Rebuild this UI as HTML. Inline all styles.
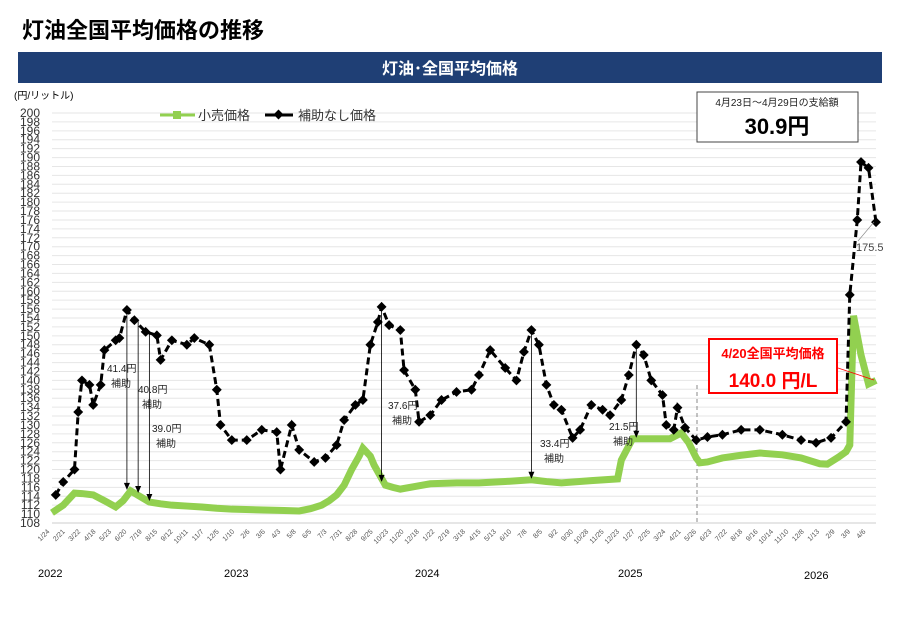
<!DOCTYPE html>
<html><head><meta charset="utf-8">
<style>
body{margin:0;background:#fff;width:900px;height:623px;overflow:hidden;font-family:"Liberation Sans","Noto Sans CJK JP",sans-serif;}
</style></head><body>
<svg id="c" width="900" height="623" xmlns="http://www.w3.org/2000/svg" font-family="Liberation Sans, Noto Sans CJK JP, sans-serif">
<text x="22" y="38" font-size="22" font-weight="bold" fill="#000">灯油全国平均価格の推移</text>
<rect x="18" y="52" width="864" height="31" fill="#1f3f75"/>
<text x="450" y="74" font-size="16" font-weight="bold" fill="#fff" text-anchor="middle">灯油･全国平均価格</text>
<text x="14" y="99" font-size="10" fill="#000">(円/リットル)</text>
<g id="grid"></g><g id="ylab"></g><g id="xlab"></g>
<line x1="697" y1="385" x2="697" y2="523" stroke="#888" stroke-dasharray="4,3"/>
<g id="series"></g>
<g id="ann" font-size="10" fill="#222"></g>
<g>
<line x1="160" y1="115" x2="195" y2="115" stroke="#92d050" stroke-width="3"/><rect x="173" y="111" width="8" height="8" fill="#92d050"/>
<text x="198" y="120" font-size="13" fill="#333">小売価格</text>
<line x1="265" y1="115" x2="293" y2="115" stroke="#000" stroke-width="3"/><rect x="275" y="111" width="7" height="7" fill="#000" transform="rotate(45 278.5 114.5)"/>
<text x="298" y="120" font-size="13" fill="#333">補助なし価格</text>
</g>
<g>
<rect x="697" y="92" width="161" height="50" fill="#fff" stroke="#444"/>
<text x="777" y="106" font-size="10" fill="#222" text-anchor="middle">4月23日～4月29日の支給額</text>
<text x="777" y="134" font-size="22" font-weight="bold" fill="#000" text-anchor="middle">30.9円</text>
</g>
<g>
<line x1="838" y1="368" x2="874" y2="380" stroke="#f00" stroke-width="0.8"/>
<rect x="709" y="339" width="128" height="54" fill="#fff" stroke="#f00" stroke-width="2"/>
<text x="773" y="358" font-size="13" font-weight="bold" fill="#f00" text-anchor="middle">4/20全国平均価格</text>
<text x="773" y="387" font-size="19" font-weight="bold" fill="#f00" text-anchor="middle">140.0 円/L</text>
</g>
<text x="856" y="251" font-size="11" fill="#444">175.5</text>
<line x1="858" y1="241" x2="874" y2="222" stroke="#888" stroke-width="0.6"/>
<g font-size="11" fill="#000">
<text x="38" y="577">2022</text>
<text x="224" y="577">2023</text>
<text x="415" y="577">2024</text>
<text x="618" y="577">2025</text>
<text x="804" y="579">2026</text>
</g>
</svg>
<script>
const yTicks=[108,110,112,114,116,118,120,122,124,126,128,130,132,134,136,138,140,142,144,146,148,150,152,154,156,158,160,162,164,166,168,170,172,174,176,178,180,182,184,186,188,190,192,194,196,198,200];
const xLabels=["1/24","2/21","3/22","4/18","5/23","6/20","7/19","8/15","9/12","10/11","11/7","12/5","1/10","2/6","3/6","4/3","5/8","6/5","7/3","7/31","8/28","9/25","10/23","11/20","12/18","1/22","2/19","3/18","4/15","5/13","6/10","7/8","8/5","9/2","9/30","10/28","11/25","12/23","1/27","2/25","3/24","4/21","5/26","6/23","7/22","8/18","9/16","10/14","11/10","12/8","1/13","2/9","3/9","4/6"];
const retailWeeks=[0,3,6,8,11,14,17,19,21,23,26,29,32,36,40,44,48,53,58,62,66,69,72,74,76,78,80,82,83,85,86,88,89,91,93,97,101,108,114,121,128,132,136,144,151,152,155,160,165,168,170,172,173,175,179,184,189,195,200,205,207,210,212,213,214,216,218,220];
const retailValues=[110.3,112,114.7,114.6,114.3,113,111.6,113,115.2,114.2,112.7,112.3,112,111.8,111.6,111.3,111.1,111,110.9,110.8,110.7,111.2,112,113,114.3,116.5,120,123,124.8,123,121,118,116.5,116,115.6,116.2,116.8,117,117,117.3,117.7,117.3,117,117.5,117.9,122.1,126.9,126.9,126.9,128.2,126,122.6,121.5,121.7,122.6,123.2,123.7,123.3,122.6,121.3,121.2,122.8,124,125.5,154.5,145.7,139.2,140.0];
const noSubWeeks=[1,3,6,7,8,10,11,13,14,17,18,20,22,25,28,29,32,36,38,42,44,45,48,52,56,60,61,64,66,70,73,76,78,81,83,85,87,88,90,93,94,97,98,101,104,108,112,114,117,121,124,126,128,130,132,134,136,139,141,144,147,149,152,154,156,158,160,163,164,166,167,169,172,175,179,184,189,195,200,204,208,212,213,215,216,218,220];
const noSubValues=[114.3,117.2,120,132.9,140,139,134.5,139,146.8,149,149.5,155.8,153.5,150.9,150.1,144.6,149,148,149.5,148,137.9,130,126.6,126.6,128.9,128.4,120,130,124.4,121.7,122.6,125.5,131.1,134.5,135.6,148,153.1,156.5,152.4,151.3,142.3,137.9,130.7,132.2,135.6,137.4,137.9,141.2,146.8,142.8,140,146.4,151.3,148,139,134.5,133.4,127.1,128.9,134.5,133.4,132.2,135.6,141.2,148,145.7,140,136.7,130,128.9,133.9,129.4,126.6,127.3,127.8,128.9,128.9,127.8,126.6,126,127.1,130.7,159.2,176,189,187.7,175.5];
const NS='http://www.w3.org/2000/svg';
const X0=52,X1=876,Y0=523,Y1=113,WMAX=220;
const xs=w=>X0+w*(X1-X0)/WMAX;
const ys=v=>Y0-(v-108)*(Y0-Y1)/92;
function mk(t,a,p){const e=document.createElementNS(NS,t);for(const k in a)e.setAttribute(k,a[k]);p.appendChild(e);return e;}
const grid=document.getElementById('grid'),ylab=document.getElementById('ylab'),xlab=document.getElementById('xlab'),ser=document.getElementById('series');
yTicks.forEach(v=>{
 const l=mk('line',{x1:X0,x2:X1,y1:ys(v),y2:ys(v),stroke:v===108?'#ccc':'#e6e6e6','stroke-width':1},grid);
 
 
 const t=mk('text',{x:40,y:ys(v)+4,'font-size':12,fill:'#333','text-anchor':'end'},ylab);
 
 
 t.textContent=v;
});
xLabels.forEach((s,i)=>{
 const x=50+i*(866-50)/(xLabels.length-1),y=532;
 const t=mk('text',{x:x,y:y,'font-size':7,fill:'#555','text-anchor':'end',transform:`rotate(-45 ${x} ${y})`},xlab);
 
 
 t.textContent=s;
});
const rp=mk('polyline',{points:retailWeeks.map((w,i)=>xs(w)+','+ys(retailValues[i])).join(' '),fill:'none',stroke:'#92d050','stroke-width':7,'stroke-linejoin':'miter'},ser);


const bp=mk('polyline',{points:noSubWeeks.map((w,i)=>xs(w)+','+ys(noSubValues[i])).join(' '),fill:'none',stroke:'#000','stroke-width':3,'stroke-dasharray':'7,4'},ser);


noSubWeeks.forEach((w,i)=>{
 const x=xs(w),y=ys(noSubValues[i]);
 const r=mk('rect',{x:x-3.5,y:y-3.5,width:7,height:7,fill:'#000',transform:`rotate(45 ${x} ${y})`},ser);
 
 
});
const ann=document.getElementById('ann');
const subs=[[20,155.8,115.2,'41.4円',107,372],[23,153.5,114.5,'40.8円',138,393],[26,150.9,112.7,'39.0円',152,432],[88,156.5,117,'37.6円',388,409],[128,151.3,117.7,'33.4円',540,447],[156,148,126.9,'21.5円',609,430]];
subs.forEach(s=>{
 const x=xs(s[0]);
 const l=mk('line',{x1:x,x2:x,y1:ys(s[1]),y2:ys(s[2])-2,stroke:'#000','stroke-width':0.8},ann);
 
 
 mk('path',{d:`M${x-3},${ys(s[2])-8} L${x+3},${ys(s[2])-8} L${x},${ys(s[2])-1} z`,fill:'#000'},ann);
 const t=mk('text',{x:s[4],y:s[5]},ann);
 
 
 t.textContent=s[3];
 const t2=mk('text',{x:s[4]+4,y:s[5]+15},ann);
 
 
 t2.textContent='補助';
});
</script>
</body></html>
